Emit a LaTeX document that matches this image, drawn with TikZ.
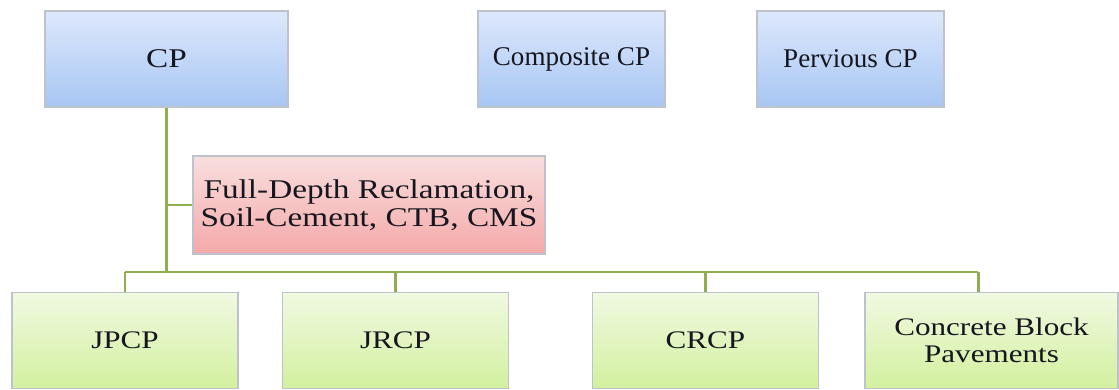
\documentclass[tikz,border=0pt]{standalone}
\usepackage{fontspec}
\setmainfont{Liberation Serif}
\newfontfamily\wideserif{Liberation Serif}[FakeStretch=1.23]
\usetikzlibrary{positioning}

\definecolor{cpTop}{HTML}{DDE8FC}
\definecolor{cpBot}{HTML}{A7C6F3}
\definecolor{fdrTop}{HTML}{F9DEDE}
\definecolor{fdrBot}{HTML}{F4A9A9}
\definecolor{pavTop}{HTML}{F0F9E2}
\definecolor{pavBot}{HTML}{D3F09E}
\definecolor{edge}{HTML}{BEC2CA}
\definecolor{linkgreen}{HTML}{8FAE4F}
\definecolor{ink}{HTML}{16161F}

\tikzset{
  box/.style={draw=edge, line width=0.8pt, minimum height=1.92cm, align=center,
    inner sep=2pt, text=ink, font=\wideserif\fontsize{15.4}{15.6}\selectfont},
  cpbox/.style={box, top color=cpTop, bottom color=cpBot},
  fdrbox/.style={box, top color=fdrTop, bottom color=fdrBot},
  pavbox/.style={box, top color=pavTop, bottom color=pavBot, minimum width=4.52cm,
    font=\wideserif\fontsize{14.4}{15.6}\selectfont},
  link/.style={draw=linkgreen, line width=1.7pt}
}

\begin{document}
\begin{tikzpicture}[x=0.02cm,y=-0.02cm]
  \useasboundingbox (0,0) rectangle (1119,389);
  % top row
  \node[cpbox, minimum width=4.86cm] (cp) at (166.5,59) {CP};
  \node[cpbox, minimum width=3.74cm, font=\fontsize{15.4}{15.6}\selectfont] (comp) at (571.5,59) {Composite CP};
  \node[cpbox, minimum width=3.74cm, font=\fontsize{15.4}{15.6}\selectfont] (perv) at (850.5,59) {Pervious CP};
  % base materials
  \node[fdrbox, minimum width=7.04cm, minimum height=1.96cm] (fdr) at (369,205)
    {Full-Depth Reclamation,\\Soil-Cement, CTB, CMS};
  % pavement types
  \node[pavbox] (jpcp) at (125,340.5) {JPCP};
  \node[pavbox] (jrcp) at (395.5,340.5) {JRCP};
  \node[pavbox] (crcp) at (705.5,340.5) {CRCP};
  \node[pavbox, minimum width=5.06cm] (cbp) at (991.5,340.5) {Concrete Block\\Pavements};
  % connectors
  \coordinate (bus) at (0,272);
  \coordinate (cbptop) at ([xshift=-0.27cm]cbp.north);
  \draw[link] (cp.south) -- (cp.south |- bus);
  \draw[link] (cp.south |- fdr.west) -- (fdr.west);
  \draw[link] (jpcp.north |- bus) -- (cbptop |- bus);
  \foreach \n in {jpcp,jrcp,crcp,cbptop}
    \draw[link] (\n.north |- bus) -- (\n.north);
\end{tikzpicture}
\end{document}
